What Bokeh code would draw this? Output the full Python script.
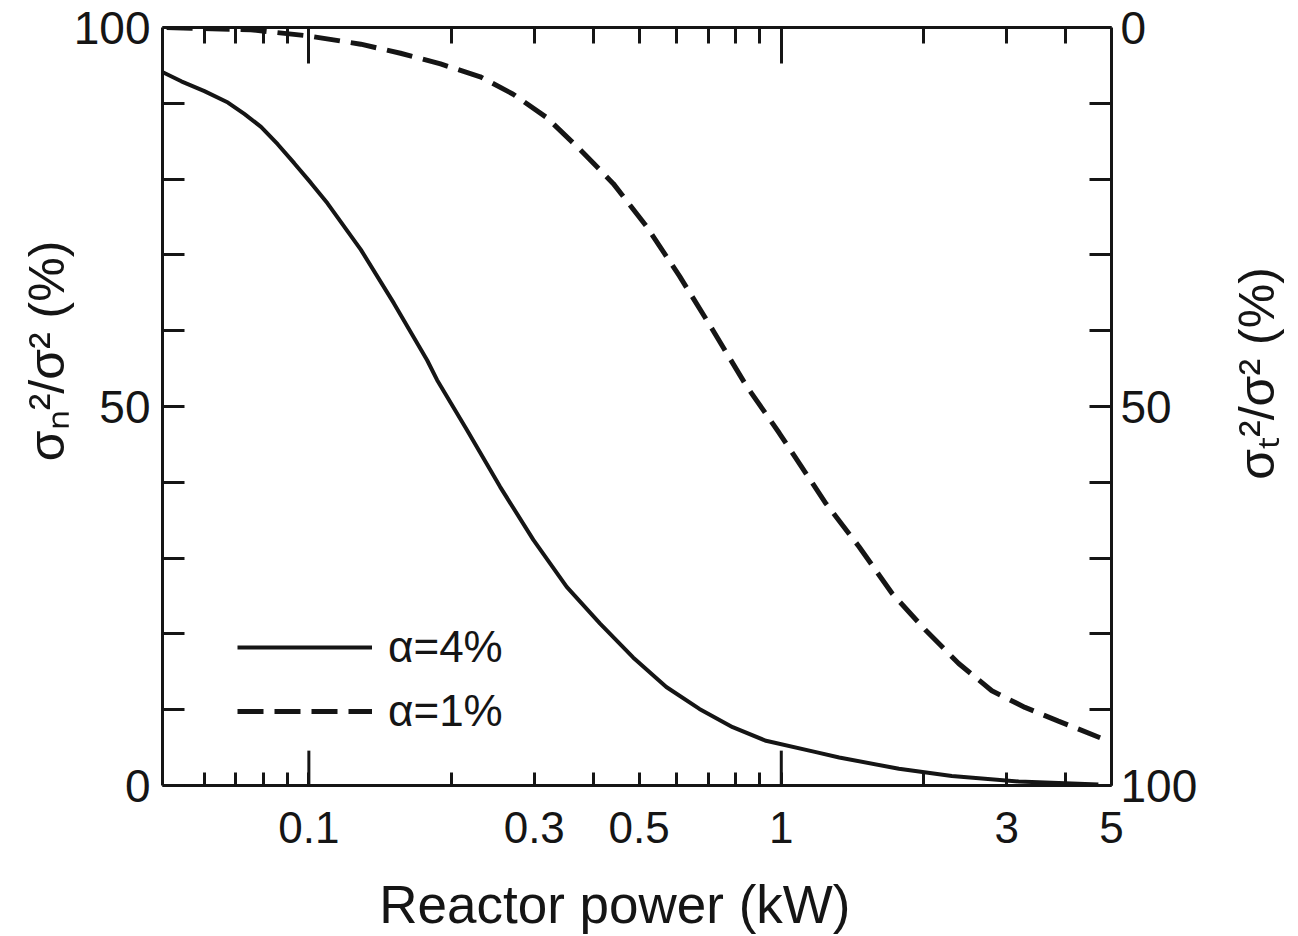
from bokeh.plotting import figure
from bokeh.models import (Range1d, LinearAxis, LogAxis, FixedTicker, Legend,
                          LegendItem, Label)
from bokeh.embed import file_html
from bokeh.resources import INLINE

# ---------------- data ----------------
power_a4 = [0.0487, 0.0537, 0.0601, 0.0674, 0.0730, 0.0792, 0.0859, 0.0931,
            0.1010, 0.1095, 0.1288, 0.1514, 0.1780, 0.1868, 0.2161, 0.254,
            0.2987, 0.3514, 0.413, 0.4856, 0.571, 0.671, 0.789, 0.928,
            1.184, 1.326, 1.774, 2.296, 3.18, 4.69]
share_a4 = [94.2, 92.9, 91.6, 90.1, 88.6, 86.9, 84.6, 82.1,
            79.5, 76.8, 70.7, 63.6, 56.1, 53.5, 46.9, 39.4,
            32.4, 26.2, 21.4, 16.9, 13.0, 10.1, 7.7, 5.9,
            4.4, 3.7, 2.2, 1.25, 0.53, 0.13]

power_a1 = [0.05, 0.0564, 0.0754, 0.0994, 0.1288, 0.1563, 0.19, 0.2306,
            0.2707, 0.319, 0.375, 0.441, 0.518, 0.609, 0.716, 0.842, 0.99,
            1.243, 1.461, 1.718, 2.019, 2.374, 2.79, 3.28, 3.86, 4.73]
share_a1 = [100.0, 99.9, 99.7, 98.9, 97.8, 96.6, 95.2, 93.5,
            91.2, 88.1, 83.9, 79.4, 73.8, 67.2, 60.1, 52.8, 46.5,
            37.2, 31.5, 25.3, 20.5, 16.1, 12.5, 10.3, 8.5, 6.3]

series_labels = ["α=4%", "α=1%"]

x_major = [0.1, 0.3, 0.5, 1, 3, 5]
x_major_labels = ["0.1", "0.3", "0.5", "1", "3", "5"]
x_minor = [0.06, 0.07, 0.08, 0.09, 0.2, 0.4, 0.6, 0.7, 0.8, 0.9, 2, 4]
x_long = [0.1, 1]
x_top_minor = [0.06, 0.07, 0.08, 0.09, 0.2, 0.3, 0.4, 0.5, 0.6, 0.7, 0.8,
               0.9, 2, 3, 4]

y_major = [0, 50, 100]
y_minor = [10, 20, 30, 40, 60, 70, 80, 90]

x_title = "Reactor power (kW)"
y_left_title = "σₙ²/σ² (%)"
y_right_title = "σₜ²/σ² (%)"

FONT = "Liberation Sans"
INK = "#151515"
NB = "\u00a0"

# ---------------- figure ----------------
p = figure(width=1298, height=936, x_axis_type="log",
           x_range=Range1d(0.049, 5.0), y_range=Range1d(0, 100),
           x_axis_location=None, y_axis_location=None,
           output_backend="svg", toolbar_location=None,
           min_border_left=162, min_border_right=187,
           min_border_top=27, min_border_bottom=151)
p.extra_y_ranges = {"t": Range1d(start=100, end=0)}
p.outline_line_color = None
p.background_fill_color = "white"
p.border_fill_color = "white"
for g in p.grid:
    g.visible = False


def style_axis(ax, label_size):
    ax.axis_line_color = INK
    ax.axis_line_width = 3
    ax.major_tick_line_color = INK
    ax.minor_tick_line_color = INK
    ax.major_tick_line_width = 3
    ax.minor_tick_line_width = 3
    ax.major_tick_out = 0
    ax.minor_tick_out = 0
    ax.major_label_text_font = FONT
    ax.major_label_text_font_size = label_size
    ax.major_label_text_color = INK
    ax.axis_label_text_font = FONT
    ax.axis_label_text_font_style = "normal"
    ax.axis_label_text_color = INK


# bottom axis
xb = LogAxis(ticker=FixedTicker(ticks=x_major, minor_ticks=x_minor))
style_axis(xb, "44px")
xb.major_tick_in = 13
xb.minor_tick_in = 13
xb.major_label_overrides = dict(zip(x_major, x_major_labels))
xb.major_label_standoff = 26
xb.axis_label = x_title + NB * 3
xb.axis_label_text_font_size = "53px"
xb.axis_label_standoff = 29
p.add_layout(xb, "below")

# top axis (ticks only)
xt = LogAxis(ticker=FixedTicker(ticks=x_long, minor_ticks=x_top_minor))
style_axis(xt, "1px")
xt.major_tick_in = 36
xt.minor_tick_in = 16
xt.major_label_overrides = {t: "" for t in x_long}
xt.major_label_standoff = 0
p.add_layout(xt, "above")

# left axis
yl = LinearAxis(ticker=FixedTicker(ticks=y_major, minor_ticks=y_minor))
style_axis(yl, "46px")
yl.major_tick_in = 22
yl.minor_tick_in = 22
yl.major_label_standoff = 12
yl.axis_label = NB * 8 + y_left_title
yl.axis_label_text_font_size = "50px"
yl.axis_label_standoff = -4
p.add_layout(yl, "left")

# right axis (complement, reversed)
yr = LinearAxis(y_range_name="t",
                ticker=FixedTicker(ticks=y_major, minor_ticks=y_minor))
style_axis(yr, "46px")
yr.major_tick_in = 22
yr.minor_tick_in = 22
yr.major_label_standoff = 9
p.add_layout(yr, "right")

# right-hand title, reading bottom to top, in its own side panel
p.add_layout(Label(x=56, y=412, x_units="screen", y_units="screen",
                   text=y_right_title, angle=90, angle_units="deg",
                   text_align="center", text_baseline="middle",
                   text_font=FONT, text_font_size="50px", text_color=INK),
             "right")

# longer ticks at decades on the bottom axis
p.segment(x0=x_long, y0=[0] * len(x_long), x1=x_long,
          y1=[4.6] * len(x_long), line_color=INK, line_width=3)

# curves
r4 = p.line(power_a4, share_a4, line_color=INK, line_width=4)
r1 = p.line(power_a1, share_a1, line_color=INK, line_width=5,
            line_dash="26 11")

legend = Legend(items=[LegendItem(label=series_labels[0], renderers=[r4]),
                       LegendItem(label=series_labels[1], renderers=[r1])],
                location=(75, 44), glyph_width=135, glyph_height=60,
                label_height=60, label_standoff=16, spacing=4, padding=0,
                margin=0, border_line_color=None, background_fill_alpha=0,
                label_text_font=FONT, label_text_font_size="44px",
                label_text_color=INK)
p.add_layout(legend)

open("out.html", "w").write(file_html(p, INLINE))
